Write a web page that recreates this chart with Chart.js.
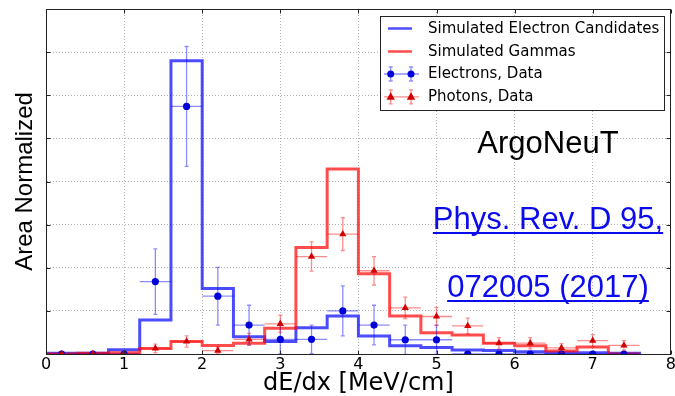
<!DOCTYPE html>
<html><head><meta charset="utf-8">
<script src="https://cdn.jsdelivr.net/npm/chart.js@4.4.1/dist/chart.umd.min.js"></script>
<style>html,body{margin:0;padding:0;background:#fff;}canvas{display:block;}</style>
</head><body>
<canvas id="c" width="675" height="396"></canvas>
<script>
// ---- data (y in units of one grid division) ----
const binCenters   = [0.2,0.6,1.0,1.4,1.8,2.2,2.6,3.0,3.4,3.8,4.2,4.6,5.0,5.4,5.8,6.2,6.6,7.0,7.4];
const simElectrons = [0.02,0.02,0.10,0.79,6.80,1.52,0.40,0.29,0.61,0.88,0.42,0.19,0.15,0.09,0.08,0.05,0.03,0.03,0.02];
const simGammas    = [0.00,0.02,0.03,0.13,0.29,0.20,0.25,0.60,2.47,4.29,1.86,0.88,0.49,0.44,0.25,0.19,0.07,0.16,0.00];
const electronData = [0,0,0,1.68,5.74,1.34,0.67,0.34,0.34,1.00,0.67,0.33,0.33,0,0,0,0,0,0];
const electronErr  = [0,0,0,0.76,1.39,0.67,0.46,0.34,0.33,0.58,0.46,0.34,0.34,0,0,0,0,0,0];
const photonData   = [0,0,0,0.13,0.29,0.08,0.34,0.70,2.26,2.78,1.93,1.07,0.87,0.65,0.25,0.25,0.14,0.31,0.20];
const photonErr    = [0,0,0,0.10,0.13,0.08,0.14,0.20,0.34,0.38,0.33,0.25,0.21,0.18,0.13,0.13,0.10,0.14,0.11];
const halfBin = 0.2;
const xTickValues = [0,1,2,3,4,5,6,7,8];
const seriesLabels = ['Simulated Electron Candidates','Simulated Gammas','Electrons, Data','Photons, Data'];
const xTitle = 'dE/dx [MeV/cm]';
const yTitle = 'Area Normalized';
const annotation = 'ArgoNeuT';
const refLines = ['Phys. Rev. D 95,','072005 (2017)'];

const BLUE_LINE = 'rgba(0,0,255,0.7)';
const RED_LINE = 'rgba(255,0,0,0.7)';
const BLUE_PT = '#0000d8';
const RED_PT = '#d00000';
const BLUE_ERR = 'rgba(0,0,255,0.45)';
const RED_ERR = 'rgba(255,0,0,0.45)';

function histPoints(vals){
  const pts = binCenters.map((c,i)=>({x:c-halfBin,y:vals[i]}));
  pts.push({x:binCenters[binCenters.length-1]+halfBin,y:0});
  return pts;
}
function pointData(vals){ return binCenters.map((c,i)=>({x:c,y:vals[i]})); }

const errorBars = {
  id:'errorBars',
  beforeDatasetDraw(chart,args){
    const ds = chart.data.datasets[args.index];
    if(!ds.errY) return;
    const xs = chart.scales.x, ys = chart.scales.y, ctx = chart.ctx, a = chart.chartArea;
    ctx.save();
    ctx.beginPath(); ctx.rect(a.left,a.top,a.right-a.left,a.bottom-a.top); ctx.clip();
    ctx.strokeStyle = ds.errColor; ctx.lineWidth = 1.3;
    ds.data.forEach((p,i)=>{
      const px = xs.getPixelForValue(p.x), py = ys.getPixelForValue(p.y);
      const x0 = xs.getPixelForValue(p.x-halfBin), x1 = xs.getPixelForValue(p.x+halfBin);
      const y0 = ys.getPixelForValue(p.y-ds.errY[i]), y1 = ys.getPixelForValue(p.y+ds.errY[i]);
      ctx.beginPath();
      ctx.moveTo(x0,py); ctx.lineTo(x1,py);
      ctx.moveTo(px,y0); ctx.lineTo(px,y1);
      ctx.moveTo(px-2,y0); ctx.lineTo(px+2,y0);
      ctx.moveTo(px-2,y1); ctx.lineTo(px+2,y1);
      ctx.stroke();
    });
    ctx.restore();
  }
};

const frameAndTicks = {
  id:'frameAndTicks',
  afterDatasetsDraw(chart){
    const ctx = chart.ctx, a = chart.chartArea, xs = chart.scales.x, ys = chart.scales.y;
    ctx.save();
    ctx.strokeStyle = '#222'; ctx.lineWidth = 1;
    const L = Math.round(a.left)+0.5, R = Math.round(a.right)-0.5, T = Math.round(a.top)+0.5, B = Math.round(a.bottom)+0.5;
    ctx.strokeRect(L,T,R-L,B-T);
    ctx.beginPath();
    xTickValues.forEach(v=>{
      const px = Math.round(xs.getPixelForValue(v))+0.5;
      ctx.moveTo(px,B); ctx.lineTo(px,B-4);
      ctx.moveTo(px,T); ctx.lineTo(px,T+4);
    });
    for(let v=ys.min; v<=ys.max; v++){
      const py = Math.round(ys.getPixelForValue(v))+0.5;
      ctx.moveTo(L,py); ctx.lineTo(L+4,py);
      ctx.moveTo(R,py); ctx.lineTo(R-4,py);
    }
    ctx.stroke();
    ctx.restore();
  },
  afterDraw(chart){
    const ctx = chart.ctx;
    ctx.save();
    // legend
    const bx=380.5, by=16.5, bw=284, bh=94;
    ctx.fillStyle='#fff'; ctx.fillRect(bx,by,bw,bh);
    ctx.strokeStyle='#222'; ctx.lineWidth=1; ctx.strokeRect(bx,by,bw,bh);
    const rows=[28.5,51.5,74,96.8];
    const kinds=[{t:'line',c:BLUE_LINE},{t:'line',c:RED_LINE},{t:'err',c:BLUE_PT,e:BLUE_ERR,m:'circle'},{t:'err',c:RED_PT,e:RED_ERR,m:'tri'}];
    kinds.forEach((k,i)=>{
      const y=rows[i];
      if(k.t==='line'){
        ctx.strokeStyle=k.c; ctx.lineWidth=2.5;
        ctx.beginPath(); ctx.moveTo(388,y); ctx.lineTo(412,y); ctx.stroke();
      } else {
        ctx.strokeStyle=k.e; ctx.lineWidth=1.3;
        ctx.beginPath(); ctx.moveTo(384,y); ctx.lineTo(419,y);
        [390.7,411].forEach(mx=>{ctx.moveTo(mx,y-7);ctx.lineTo(mx,y+7);ctx.moveTo(mx-2,y-7);ctx.lineTo(mx+2,y-7);ctx.moveTo(mx-2,y+7);ctx.lineTo(mx+2,y+7);});
        ctx.stroke();
        ctx.fillStyle=k.c;
        [390.7,411].forEach(mx=>{
          ctx.beginPath();
          if(k.m==='circle'){ctx.arc(mx,y,3.5,0,Math.PI*2);}
          else {ctx.moveTo(mx,y-4.5);ctx.lineTo(mx+4.2,y+3);ctx.lineTo(mx-4.2,y+3);ctx.closePath();}
          ctx.fill();
        });
      }
      ctx.fillStyle='#000'; ctx.font='15px "DejaVu Sans"'; ctx.textAlign='left'; ctx.textBaseline='middle';
      ctx.fillText(seriesLabels[i],428,y+0.5);
    });
    // annotation
    ctx.fillStyle='#000'; ctx.font='31px "Liberation Sans"'; ctx.textAlign='center'; ctx.textBaseline='alphabetic';
    ctx.fillText(annotation,548,153);
    // reference link
    ctx.fillStyle='#0b0bee'; ctx.strokeStyle='#0b0bee'; ctx.lineWidth=2;
    [[refLines[0],229],[refLines[1],297]].forEach(([t,yb])=>{
      ctx.fillText(t,548,yb);
      const w=ctx.measureText(t).width;
      ctx.beginPath(); ctx.moveTo(548-w/2,yb+4); ctx.lineTo(548+w/2,yb+4); ctx.stroke();
    });
    ctx.restore();
  }
};

new Chart(document.getElementById('c'),{
  type:'scatter',
  data:{datasets:[
    {type:'line',label:seriesLabels[0],data:histPoints(simElectrons),stepped:'before',borderColor:BLUE_LINE,borderWidth:3,pointRadius:0,fill:false,order:4},
    {type:'line',label:seriesLabels[1],data:histPoints(simGammas),stepped:'before',borderColor:RED_LINE,borderWidth:3,pointRadius:0,fill:false,order:3},
    {type:'scatter',label:seriesLabels[2],data:pointData(electronData),errY:electronErr,errColor:BLUE_ERR,pointStyle:'circle',pointRadius:3.6,backgroundColor:BLUE_PT,borderColor:BLUE_PT,borderWidth:0,order:2},
    {type:'scatter',label:seriesLabels[3],data:pointData(photonData),errY:photonErr,errColor:RED_ERR,pointStyle:'triangle',pointRadius:4.2,backgroundColor:RED_PT,borderColor:RED_PT,borderWidth:0,order:1}
  ]},
  options:{
    responsive:false, animation:false, devicePixelRatio:1, events:[],
    layout:{padding:{left:0,right:3,top:9,bottom:0}},
    plugins:{legend:{display:false},tooltip:{enabled:false}},
    scales:{
      x:{type:'linear',min:0,max:8,
        afterBuildTicks(s){ s.ticks = xTickValues.map(v=>({value:v})); },
        afterFit(s){ s.height=42; s.paddingLeft=0; s.paddingRight=0; },
        ticks:{stepSize:1,color:'#000',font:{family:'DejaVu Sans',size:16},padding:1,maxRotation:0},
        grid:{color:'#b4b4b4',lineWidth:1,drawTicks:false},
        border:{display:true,color:'#222',dash:[1,2]},
        title:{display:true,text:xTitle,color:'#000',font:{family:'DejaVu Sans',size:24,lineHeight:1},padding:{top:0,bottom:0}}
      },
      y:{type:'linear',min:0,max:8,
        afterFit(s){ s.width=46; s.paddingTop=0; s.paddingBottom=0; },
        ticks:{stepSize:1,display:false},
        grid:{color:'#b4b4b4',lineWidth:1,drawTicks:false},
        border:{display:true,color:'#222',dash:[1,2]},
        title:{display:true,text:yTitle,color:'#000',font:{family:'Liberation Sans',size:24,lineHeight:1},padding:{top:13,bottom:0}}
      }
    }
  },
  plugins:[errorBars,frameAndTicks]
});
</script>
</body></html>
